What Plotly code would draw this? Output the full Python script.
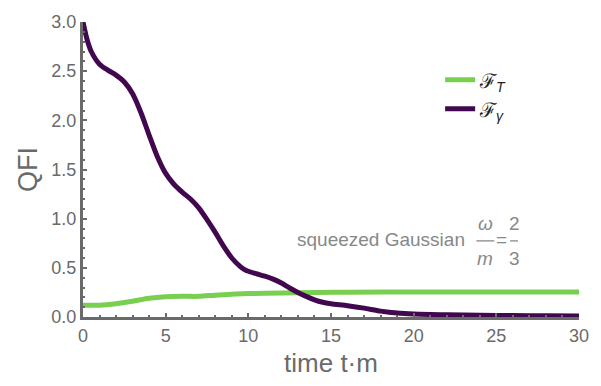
import plotly.graph_objects as go

t_p = [0, 0.25, 0.5, 1, 1.5, 2, 2.5, 3, 3.5, 4, 4.5, 5, 5.5, 6, 6.5, 7, 7.5, 8, 8.5, 9, 9.5, 9.75,
       10, 10.5, 11, 11.5, 12, 12.5, 13, 13.5, 14, 14.5, 15, 16, 17, 18, 19, 20, 22, 24, 26, 28, 30]
f_gamma = [3.00, 2.82, 2.70, 2.57, 2.51, 2.46, 2.39, 2.27, 2.08, 1.85, 1.63, 1.46, 1.35, 1.27, 1.20,
           1.11, 0.99, 0.86, 0.72, 0.60, 0.515, 0.485, 0.465, 0.44, 0.415, 0.385, 0.345, 0.295, 0.25,
           0.21, 0.175, 0.15, 0.135, 0.115, 0.09, 0.06, 0.04, 0.03, 0.022, 0.018, 0.015, 0.012, 0.01]

t_g = [0, 1, 2, 3, 4, 5, 6, 7, 8, 9, 10, 12, 14, 16, 20, 25, 30]
f_T = [0.12, 0.12, 0.135, 0.16, 0.19, 0.205, 0.21, 0.21, 0.222, 0.232, 0.238, 0.245, 0.25,
       0.252, 0.255, 0.255, 0.255]

x_ticks = [0, 5, 10, 15, 20, 25, 30]
y_ticks = [0.0, 0.5, 1.0, 1.5, 2.0, 2.5, 3.0]

GREEN = "#79CF4F"
PURPLE = "#42084F"
GRAY = "#6a6a6a"
LGRAY = "#888888"
FONT = "Liberation Sans"

fig = go.Figure()
fig.add_trace(go.Scatter(x=t_g, y=f_T, mode="lines",
                         line=dict(color=GREEN, width=5, shape="spline", smoothing=0.8),
                         name="ℱ<sub><i>T</i></sub>"))
fig.add_trace(go.Scatter(x=t_p, y=f_gamma, mode="lines",
                         line=dict(color=PURPLE, width=5, shape="spline", smoothing=0.8),
                         name="ℱ<sub><i>γ</i></sub>"))

axis_common = dict(showgrid=False, showline=True, linecolor=GRAY, linewidth=3, mirror=False,
                   ticks="inside", ticklen=4, tickwidth=1.5, tickcolor=GRAY,
                   tickfont=dict(family=FONT, size=18, color=GRAY),
                   zeroline=False)

fig.update_layout(
    width=601, height=386,
    margin=dict(l=83, r=20, t=12, b=69),
    plot_bgcolor="white", paper_bgcolor="white",
    font=dict(family=FONT, color=GRAY),
    showlegend=True,
    legend=dict(x=0.72, y=0.87, xanchor="left", yanchor="top", bgcolor="rgba(0,0,0,0)",
                font=dict(family=FONT, size=20, color="#222"), itemwidth=30, tracegroupgap=2),
    xaxis=dict(range=[0, 30], tickvals=x_ticks, ticktext=[str(v) for v in x_ticks],
               title=dict(text="time t·m", font=dict(family=FONT, size=26, color=GRAY), standoff=10),
               minor=dict(ticks="inside", ticklen=2, tickcolor=GRAY, dtick=1),
               **axis_common),
    yaxis=dict(range=[0, 3], tickvals=y_ticks, ticktext=[f"{v:.1f}" for v in y_ticks],
               title=dict(text="QFI", font=dict(family=FONT, size=27, color=GRAY), standoff=6),
               minor=dict(ticks="inside", ticklen=2, tickcolor=GRAY, dtick=0.1),
               **axis_common),
)

ann_font = dict(family=FONT, size=19, color=LGRAY)
fig.add_annotation(xref="paper", yref="paper", x=0.775, y=0.262, text="squeezed Gaussian",
                   showarrow=False, xanchor="right", yanchor="middle", font=ann_font)
fig.add_annotation(xref="paper", yref="paper", x=0.811, y=0.318, text="<i>ω</i>",
                   showarrow=False, xanchor="center", yanchor="middle", font=ann_font)
fig.add_annotation(xref="paper", yref="paper", x=0.811, y=0.197, text="<i>m</i>",
                   showarrow=False, xanchor="center", yanchor="middle", font=ann_font)
fig.add_annotation(xref="paper", yref="paper", x=0.843, y=0.262, text="=",
                   showarrow=False, xanchor="center", yanchor="middle", font=ann_font)
fig.add_annotation(xref="paper", yref="paper", x=0.869, y=0.318, text="2",
                   showarrow=False, xanchor="center", yanchor="middle", font=ann_font)
fig.add_annotation(xref="paper", yref="paper", x=0.869, y=0.197, text="3",
                   showarrow=False, xanchor="center", yanchor="middle", font=ann_font)
fig.add_shape(type="line", xref="paper", yref="paper", x0=0.793, x1=0.829, y0=0.258, y1=0.258,
              line=dict(color=LGRAY, width=1.3))
fig.add_shape(type="line", xref="paper", yref="paper", x0=0.861, x1=0.877, y0=0.258, y1=0.258,
              line=dict(color=LGRAY, width=1.3))

fig.write_html("out.html")
